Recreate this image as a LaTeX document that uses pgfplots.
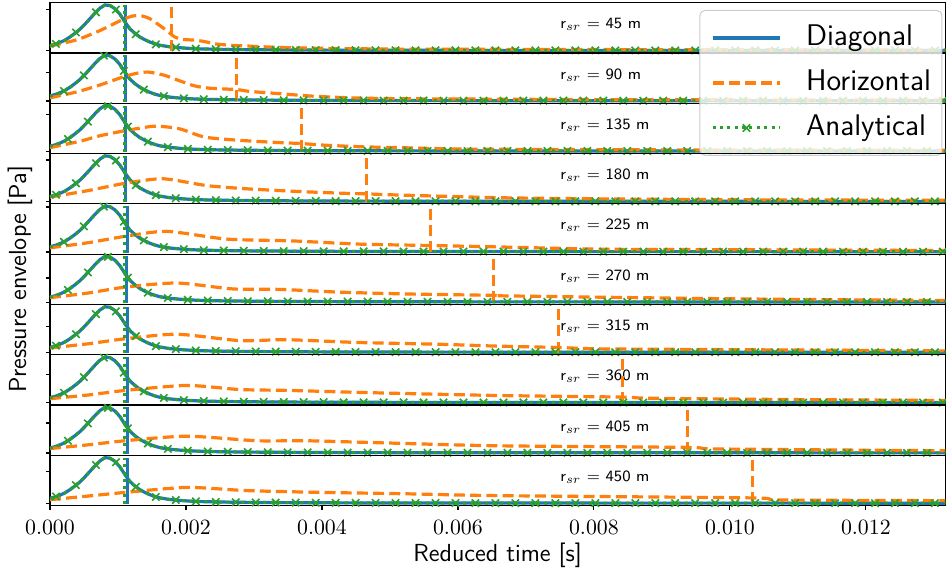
\documentclass[border=0pt]{standalone}
\usepackage{pgfplots}
\pgfplotsset{compat=1.18}
\usepackage{pgfplotstable}
\usepgfplotslibrary{groupplots}
\usetikzlibrary{calc}

\definecolor{tabblue}{HTML}{1F77B4}
\definecolor{taborange}{HTML}{FF7F0E}
\definecolor{tabgreen}{HTML}{2CA02C}

% Diagonal / analytical envelope (normalised), shared by all panels
\pgfplotstableread[row sep=\\]{
t y\\
0 0.11\\ 0.0000735 0.14\\ 0.000147 0.18\\ 0.000220 0.23\\ 0.000294 0.30\\
0.000367 0.38\\ 0.000441 0.47\\ 0.000514 0.58\\ 0.000588 0.70\\ 0.000661 0.82\\
0.000735 0.93\\ 0.000808 1.00\\ 0.000881 0.99\\ 0.000955 0.92\\ 0.001028 0.80\\
0.001102 0.63\\ 0.001175 0.48\\ 0.001249 0.38\\ 0.001322 0.30\\ 0.001396 0.24\\
0.001469 0.19\\ 0.001543 0.15\\ 0.001616 0.12\\ 0.001763 0.085\\ 0.001910 0.065\\
0.002057 0.05\\ 0.002204 0.04\\ 0.002497 0.03\\ 0.002938 0.022\\ 0.003673 0.015\\
0.004407 0.011\\ 0.005876 0.008\\ 0.008814 0.006\\ 0.0132 0.005\\
}\pulse

% analytical marker positions (three phases)
\pgfplotstableread[row sep=\\]{
t y\\
0.0000881 0.15\\ 0.000382 0.40\\ 0.000676 0.84\\ 0.000970 0.90\\ 0.001263 0.36\\
0.001557 0.14\\ 0.001851 0.073\\ 0.002145 0.044\\ 0.002439 0.032\\ 0.002732 0.026\\
0.003026 0.021\\ 0.003320 0.018\\ 0.003614 0.016\\ 0.003908 0.014\\ 0.004202 0.012\\
0.004495 0.011\\ 0.004789 0.010\\ 0.005083 0.0095\\ 0.005377 0.009\\ 0.005671 0.0085\\
0.005964 0.008\\ 0.006258 0.007\\ 0.006552 0.007\\ 0.006846 0.007\\ 0.007140 0.007\\
0.007434 0.007\\ 0.007727 0.007\\ 0.008021 0.007\\ 0.008315 0.006\\ 0.008609 0.006\\
0.008903 0.006\\ 0.009196 0.006\\ 0.009490 0.006\\ 0.009784 0.006\\ 0.010078 0.006\\
0.010372 0.006\\ 0.010665 0.005\\ 0.010959 0.005\\ 0.011253 0.005\\ 0.011547 0.005\\
0.011841 0.005\\ 0.012135 0.005\\ 0.012428 0.005\\ 0.012722 0.005\\ 0.013016 0.005\\
}\marksA
\pgfplotstableread[row sep=\\]{
t y\\
0.000206 0.22\\ 0.000499 0.56\\ 0.000793 0.99\\ 0.001087 0.66\\ 0.001381 0.25\\
0.001675 0.106\\ 0.001969 0.059\\ 0.002262 0.038\\ 0.002556 0.029\\ 0.002850 0.024\\
0.003144 0.020\\ 0.003438 0.017\\ 0.003731 0.015\\ 0.004025 0.013\\ 0.004319 0.012\\
0.004613 0.011\\ 0.004907 0.010\\ 0.005201 0.009\\ 0.005494 0.009\\ 0.005788 0.008\\
0.006082 0.007\\ 0.006376 0.007\\ 0.006670 0.007\\ 0.006963 0.007\\ 0.007257 0.007\\
0.007551 0.007\\ 0.007845 0.007\\ 0.008139 0.007\\ 0.008432 0.006\\ 0.008726 0.006\\
0.009020 0.006\\ 0.009314 0.006\\ 0.009608 0.006\\ 0.009901 0.006\\ 0.010195 0.006\\
0.010489 0.006\\ 0.010783 0.005\\ 0.011077 0.005\\ 0.011371 0.005\\ 0.011664 0.005\\
0.011958 0.005\\ 0.012252 0.005\\ 0.012546 0.005\\ 0.012840 0.005\\ 0.013133 0.005\\
}\marksB
\pgfplotstableread[row sep=\\]{
t y\\
0.000264 0.27\\ 0.000558 0.65\\ 0.000852 0.99\\ 0.001146 0.54\\ 0.001440 0.21\\
0.001734 0.092\\ 0.002027 0.053\\ 0.002321 0.036\\ 0.002615 0.028\\ 0.002909 0.023\\
0.003203 0.019\\ 0.003496 0.016\\ 0.003790 0.014\\ 0.004084 0.013\\ 0.004378 0.012\\
0.004672 0.011\\ 0.004966 0.010\\ 0.005259 0.009\\ 0.005553 0.009\\ 0.005847 0.008\\
0.006141 0.007\\ 0.006435 0.007\\ 0.006728 0.007\\ 0.007022 0.007\\ 0.007316 0.007\\
0.007610 0.007\\ 0.007904 0.007\\ 0.008197 0.007\\ 0.008491 0.006\\ 0.008785 0.006\\
0.009079 0.006\\ 0.009373 0.006\\ 0.009667 0.006\\ 0.009960 0.006\\ 0.010254 0.006\\
0.010548 0.006\\ 0.010842 0.005\\ 0.011136 0.005\\ 0.011429 0.005\\ 0.011723 0.005\\
0.012017 0.005\\ 0.012311 0.005\\ 0.012605 0.005\\ 0.012898 0.005\\
}\marksC

\pgfplotsset{
  diag/.style={tabblue, line width=1.6bp, solid},
  horiz/.style={taborange, line width=1.6bp, dash pattern=on 5.5bp off 2.6bp},
  anal/.style={tabgreen, line width=1.5bp, dash pattern=on 1.5bp off 2.2bp},
  amark/.style={tabgreen, only marks, mark=x, mark size=2.6bp, mark options={solid, line width=0.8bp}},
}
\tikzset{lab/.style={anchor=base west, font=\fontsize{7.9}{9.5}\selectfont\sffamily, inner sep=0pt}}

\begin{document}
\begin{tikzpicture}
\begin{groupplot}[
  group style={group size=1 by 10, vertical sep=0pt, xticklabels at=edge bottom},
  width=448bp, height=25.165bp, scale only axis,
  xmin=0, xmax=0.01317, ymin=-0.05, ymax=1.05,
  axis line style={line width=0.6bp},
  every tick/.style={black, line width=0.6bp},
  tick align=outside, major tick length=2bp,
  yticklabels={}, ytick pos=left, xtick pos=left,
  xtick={0,0.002,0.004,0.006,0.008,0.010,0.012},
  scaled x ticks=false,
  xticklabel style={font=\fontsize{10.75}{13}\selectfont, anchor=base, yshift=-12.5bp,
    /pgf/number format/fixed, /pgf/number format/fixed zerofill, /pgf/number format/precision=3},
  legend style={font=\fontsize{15}{18}\selectfont\sffamily, draw=black!20, line width=0.5bp,
    fill=white, fill opacity=0.8, text opacity=1, rounded corners=2.5bp,
    inner xsep=5.5bp, inner ysep=6.5bp, row sep=8bp, column sep=12bp,
    nodes={inner sep=0pt, text height=11bp, text depth=3.5bp}},
  legend cell align=left,
  legend image code/.code={\draw[mark repeat=2, mark phase=2, #1] plot coordinates {(0bp,0bp) (17bp,0bp) (34bp,0bp)};},
]
% ---------- 45 m
\nextgroupplot[ytick={0,0.90}, xmajorticks=false]
\node[lab] at (axis cs:0.0075,0.48) {r$_{sr}$ $=$ 45 m};
\addplot[diag] table {\pulse};
\addplot[diag] coordinates {(0.001109,-0.015) (0.001109,1.0)};
\addplot[horiz, smooth, tension=0.4] coordinates {(0,0.10) (0.000397,0.24) (0.000735,0.44) (0.000955,0.60) (0.001102,0.70) (0.001219,0.76) (0.001352,0.76) (0.001469,0.70) (0.001616,0.55) (0.001734,0.42) (0.001836,0.30) (0.001939,0.25) (0.002130,0.23) (0.002277,0.20) (0.002424,0.15) (0.002644,0.12) (0.002938,0.10) (0.003232,0.08) (0.003673,0.06) (0.004407,0.045) (0.005142,0.035) (0.006611,0.03) (0.008080,0.025) (0.010283,0.02) (0.0132,0.015)};
\addplot[horiz] coordinates {(0.001792,0) (0.001792,1.0)};
\addplot[anal] table {\pulse};
\addplot[anal] coordinates {(0.0011,-0.015) (0.0011,1.0)};
\addplot[amark] table {\marksA};
% ---------- 90 m
\nextgroupplot[ytick={0,0.63}, xmajorticks=false]
\node[lab] at (axis cs:0.0075,0.48) {r$_{sr}$ $=$ 90 m};
\addplot[diag] table {\pulse};
\addplot[diag] coordinates {(0.001109,-0.015) (0.001109,1.0)};
\addplot[horiz, smooth, tension=0.4] coordinates {(0,0.07) (0.000397,0.20) (0.000735,0.35) (0.001102,0.54) (0.001322,0.62) (0.001469,0.63) (0.001689,0.56) (0.001910,0.44) (0.002130,0.33) (0.002350,0.28) (0.002747,0.25) (0.002938,0.21) (0.003379,0.16) (0.003820,0.11) (0.004407,0.07) (0.005142,0.05) (0.006611,0.04) (0.008080,0.03) (0.010283,0.025) (0.0132,0.02)};
\addplot[horiz] coordinates {(0.002747,0) (0.002747,1.0)};
\addplot[anal] table {\pulse};
\addplot[anal] coordinates {(0.0011,-0.015) (0.0011,1.0)};
\addplot[amark] table {\marksB};
% ---------- 135 m
\nextgroupplot[ytick={0,0.80}, xmajorticks=false,
  legend style={at={(0.9967,2.855)}, anchor=north east}]
\addlegendimage{diag}
\addlegendimage{horiz}
\addlegendimage{anal, mark=x, mark size=2.6bp, mark options={solid, line width=0.8bp}}
\node[lab] at (axis cs:0.0075,0.48) {r$_{sr}$ $=$ 135 m};
\addplot[diag, forget plot] table {\pulse};
\addplot[diag, forget plot] coordinates {(0.001109,-0.015) (0.001109,1.0)};
\addplot[horiz, smooth, tension=0.4, forget plot] coordinates {(0,0.08) (0.000441,0.22) (0.000735,0.34) (0.001102,0.45) (0.001543,0.55) (0.001910,0.49) (0.002277,0.31) (0.002791,0.24) (0.003379,0.19) (0.003702,0.17) (0.003967,0.14) (0.004554,0.10) (0.005142,0.08) (0.006023,0.05) (0.007345,0.04) (0.009549,0.03) (0.0132,0.025)};
\addplot[horiz, forget plot] coordinates {(0.003702,0) (0.003702,1.0)};
\addplot[anal, forget plot] table {\pulse};
\addplot[anal, forget plot] coordinates {(0.0011,-0.015) (0.0011,1.0)};
\addplot[amark, forget plot] table {\marksC};
\legend{Diagonal, Horizontal, Analytical}
% ---------- 180 m
\nextgroupplot[ytick={0,0.91}, xmajorticks=false]
\node[lab] at (axis cs:0.0075,0.48) {r$_{sr}$ $=$ 180 m};
\addplot[diag] table {\pulse};
\addplot[diag] coordinates {(0.001109,-0.015) (0.001109,1.0)};
\addplot[horiz, smooth, tension=0.4] coordinates {(0,0.10) (0.000558,0.24) (0.001102,0.40) (0.001660,0.50) (0.002306,0.35) (0.002894,0.28) (0.003673,0.22) (0.004363,0.18) (0.004657,0.17) (0.004995,0.15) (0.006611,0.085) (0.008080,0.06) (0.009549,0.045) (0.011018,0.035) (0.0132,0.03)};
\addplot[horiz] coordinates {(0.004657,0) (0.004657,1.0)};
\addplot[anal] table {\pulse};
\addplot[anal] coordinates {(0.0011,-0.015) (0.0011,1.0)};
\addplot[amark] table {\marksA};
% ---------- 225 m
\nextgroupplot[ytick={0,0.98}, xmajorticks=false]
\node[lab] at (axis cs:0.0075,0.48) {r$_{sr}$ $=$ 225 m};
\addplot[diag] table {\pulse};
\addplot[diag] coordinates {(0.001141,-0.015) (0.001141,1.0)};
\addplot[horiz, smooth, tension=0.4] coordinates {(0,0.09) (0.000558,0.20) (0.001102,0.34) (0.001719,0.45) (0.002600,0.28) (0.003570,0.24) (0.004554,0.17) (0.005597,0.14) (0.006567,0.11) (0.008080,0.06) (0.009549,0.05) (0.0132,0.03)};
\addplot[horiz] coordinates {(0.005597,0) (0.005597,1.0)};
\addplot[anal] table {\pulse};
\addplot[anal] coordinates {(0.0011,-0.015) (0.0011,1.0)};
\addplot[amark] table {\marksB};
% ---------- 270 m
\nextgroupplot[ytick={0,0.53}, xmajorticks=false]
\node[lab] at (axis cs:0.0075,0.48) {r$_{sr}$ $=$ 270 m};
\addplot[diag] table {\pulse};
\addplot[diag] coordinates {(0.001120,-0.015) (0.001120,1.0)};
\addplot[horiz, smooth, tension=0.4] coordinates {(0,0.10) (0.000558,0.20) (0.001102,0.33) (0.001866,0.42) (0.002688,0.29) (0.003379,0.28) (0.004260,0.22) (0.005245,0.18) (0.006523,0.15) (0.006611,0.14) (0.008080,0.11) (0.010283,0.07) (0.0132,0.035)};
\addplot[horiz] coordinates {(0.006523,0) (0.006523,1.0)};
\addplot[anal] table {\pulse};
\addplot[anal] coordinates {(0.0011,-0.015) (0.0011,1.0)};
\addplot[amark] table {\marksC};
% ---------- 315 m
\nextgroupplot[ytick={0,0.57}, xmajorticks=false]
\node[lab] at (axis cs:0.0075,0.48) {r$_{sr}$ $=$ 315 m};
\addplot[diag] table {\pulse};
\addplot[diag] coordinates {(0.001141,-0.015) (0.001141,1.0)};
\addplot[horiz, smooth, tension=0.4] coordinates {(0,0.10) (0.000558,0.19) (0.001102,0.30) (0.001866,0.40) (0.002791,0.26) (0.003482,0.28) (0.004510,0.22) (0.005729,0.18) (0.006567,0.14) (0.007478,0.11) (0.008080,0.08) (0.010283,0.06) (0.0132,0.035)};
\addplot[horiz] coordinates {(0.007478,0) (0.007478,1.0)};
\addplot[anal] table {\pulse};
\addplot[anal] coordinates {(0.0011,-0.015) (0.0011,1.0)};
\addplot[amark] table {\marksA};
% ---------- 360 m
\nextgroupplot[ytick={0,0.62}, xmajorticks=false]
\node[lab] at (axis cs:0.0075,0.48) {r$_{sr}$ $=$ 360 m};
\addplot[diag] table {\pulse};
\addplot[diag] coordinates {(0.001141,-0.015) (0.001141,1.0)};
\addplot[horiz, smooth, tension=0.4] coordinates {(0,0.09) (0.000558,0.17) (0.001102,0.27) (0.002013,0.38) (0.002791,0.29) (0.003526,0.27) (0.004745,0.22) (0.006567,0.16) (0.008418,0.125) (0.008814,0.10) (0.011018,0.07) (0.0132,0.05)};
\addplot[horiz] coordinates {(0.008418,0) (0.008418,1.0)};
\addplot[anal] table {\pulse};
\addplot[anal] coordinates {(0.0011,-0.015) (0.0011,1.0)};
\addplot[amark] table {\marksB};
% ---------- 405 m
\nextgroupplot[ytick={0,0.66}, xmajorticks=false]
\node[lab] at (axis cs:0.0075,0.48) {r$_{sr}$ $=$ 405 m};
\addplot[diag] table {\pulse};
\addplot[diag] coordinates {(0.001141,-0.015) (0.001141,1.0)};
\addplot[horiz, smooth, tension=0.4] coordinates {(0,0.10) (0.000558,0.18) (0.001102,0.27) (0.002013,0.37) (0.003041,0.27) (0.003776,0.27) (0.004995,0.22) (0.006567,0.16) (0.009373,0.125) (0.009843,0.09) (0.0132,0.05)};
\addplot[horiz] coordinates {(0.009373,0) (0.009373,1.0)};
\addplot[anal] table {\pulse};
\addplot[anal] coordinates {(0.0011,-0.015) (0.0011,1.0)};
\addplot[amark] table {\marksC};
% ---------- 450 m
\nextgroupplot[ytick={0,0.70}]
\node[lab] at (axis cs:0.0075,0.48) {r$_{sr}$ $=$ 450 m};
\addplot[diag] table {\pulse};
\addplot[diag] coordinates {(0.001141,-0.015) (0.001141,1.0)};
\addplot[horiz, smooth, tension=0.4] coordinates {(0,0.08) (0.000558,0.16) (0.001102,0.24) (0.002013,0.35) (0.002894,0.28) (0.004010,0.24) (0.005245,0.21) (0.006567,0.17) (0.010328,0.12) (0.010724,0.075) (0.0132,0.06)};
\addplot[horiz] coordinates {(0.010328,0) (0.010328,1.0)};
\addplot[anal] table {\pulse};
\addplot[anal] coordinates {(0.0011,-0.015) (0.0011,1.0)};
\addplot[amark] table {\marksA};
\end{groupplot}

\node[rotate=90, font=\fontsize{12.4}{15}\selectfont\sffamily] at ([xshift=-15bp]group c1r6.west) {Pressure envelope [Pa]};
\node[anchor=base, font=\fontsize{12.4}{15}\selectfont\sffamily] at ([yshift=-28bp]group c1r10.south) {Reduced time [s]};

\pgfresetboundingbox
\path ([xshift=-25bp,yshift=-34.5bp]group c1r10.south west) rectangle ([xshift=0.3bp,yshift=1.35bp]group c1r1.north east);
\end{tikzpicture}
\end{document}
